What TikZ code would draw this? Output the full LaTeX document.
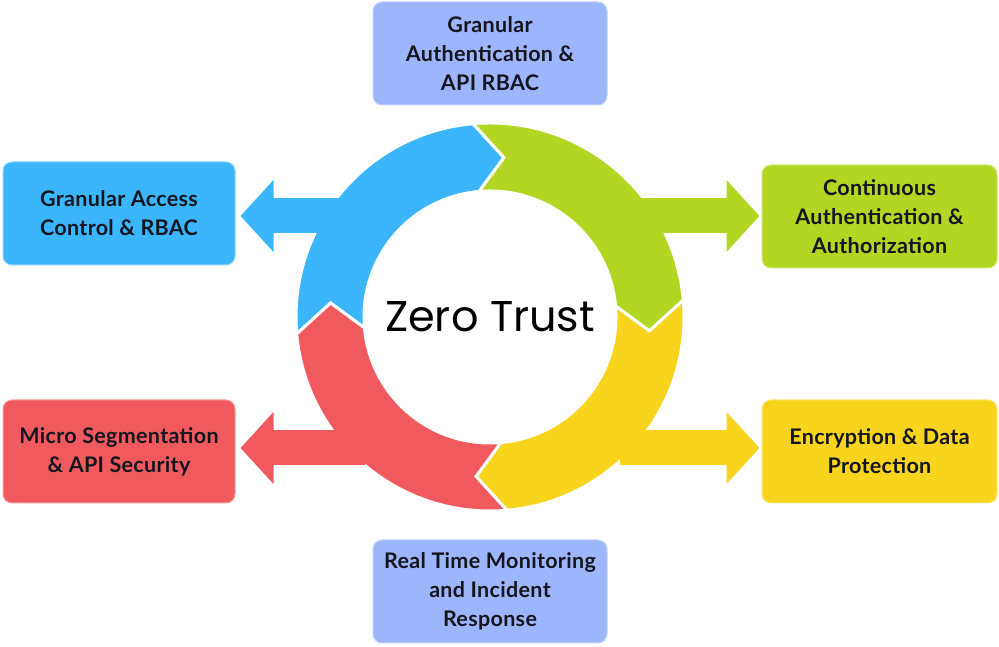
\documentclass[tikz,border=0pt]{standalone}
\usepackage{fontspec}
\setmainfont{Lato}
\newfontfamily\zfont{Poppins}
\usetikzlibrary{arrows.meta}
\definecolor{zblue}{HTML}{3BB5FC}
\definecolor{zgreen}{HTML}{B3D622}
\definecolor{zyellow}{HTML}{F8D41D}
\definecolor{zred}{HTML}{F05A5E}
\definecolor{zperi}{HTML}{9DB5FA}
\definecolor{ztxt}{HTML}{14161F}
\begin{document}
\begin{tikzpicture}[x=1pt,y=1pt,
  box/.style={rounded corners=9pt, minimum height=103pt, inner sep=0pt, align=center,
    text=ztxt, font=\fontsize{21.5}{29}\selectfont\bfseries\addfontfeature{LetterSpace=1.5}, line width=1pt},
  arr/.style={line width=35pt, -{Triangle[width=70pt,length=33pt]}, shorten >=5pt}]
\useasboundingbox (0,0) rectangle (999,647);

% boxes
\node[box, fill=zperi, draw=zperi!60!white, minimum width=234pt] (top) at (490,593.5) {Granular\\Authentication \&\\API RBAC};
\node[box, fill=zblue, draw=zblue!60!white, minimum width=232pt] (lu) at (119,433.5) {Granular Access\\Control \& RBAC};
\node[box, fill=zgreen, draw=zgreen!60!white, minimum width=235pt] (ru) at (879.5,430.5) {Continuous\\Authentication \&\\Authorization};
\node[box, fill=zred, draw=zred!60!white, minimum width=232pt] (ll) at (119,195.5) {Micro Segmentation\\\& API Security};
\node[box, fill=zyellow, draw=zyellow!60!white, minimum width=235pt] (rl) at (879.5,195.5) {Encryption \& Data\\Protection};
\node[box, fill=zperi, draw=zperi!60!white, minimum width=234pt] (bot) at (490,55.5) {Real Time Monitoring\\and Incident\\Response};

% ring
\coordinate (c) at (490,330);
\begin{scope}[shift={(c)}]
\foreach \h/\col in {95/zblue,5/zgreen,-85/zyellow,-175/zred}{
  \pgfmathsetmacro\ta{\h+90}
  \pgfmathsetmacro\tp{\h-10}
  \pgfmathsetmacro\nt{\ta-10}
  \filldraw[fill=\col, draw=white, line width=3pt, line join=miter]
    (\ta:194) arc[start angle=\ta, end angle=\h, radius=194]
    -- (\tp:160) -- (\h:126) arc[start angle=\h, end angle=\ta, radius=126]
    -- (\nt:160) -- cycle;
}
\end{scope}

% arrows
\coordinate (bs) at (345,431);
\coordinate (gs) at (640,431);
\coordinate (rs) at (365,199);
\coordinate (ys) at (620,199);
\draw[arr, zblue] (bs) -- (bs -| lu.east);
\draw[arr, zgreen, shorten >=2pt] (gs) -- (gs -| ru.west);
\draw[arr, zred] (rs) -- (rs -| ll.east);
\draw[arr, zyellow, shorten >=2pt] (ys) -- (ys -| rl.west);

\node[font=\zfont\fontsize{43}{43}\selectfont, text=black] (zt) at (490,330) {Zero Trust};
\end{tikzpicture}
\end{document}
